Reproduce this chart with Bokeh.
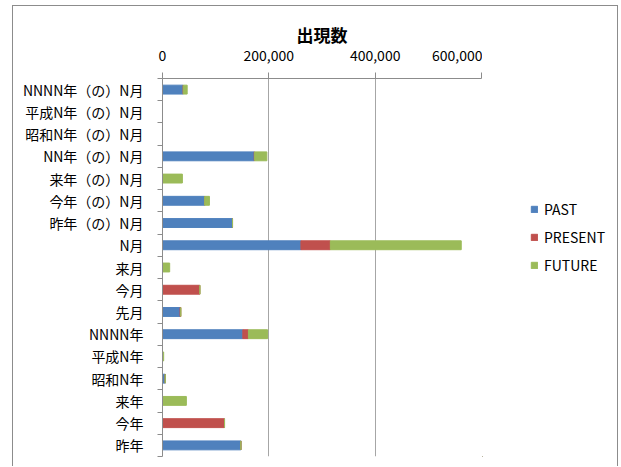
from bokeh.plotting import figure
from bokeh.layouts import row
from bokeh.models import (FixedTicker, NumeralTickFormatter, Legend, LegendItem,
                          ColumnDataSource, Range1d)
from bokeh.embed import file_html
from bokeh.resources import INLINE

categories = ["NNNN年（の）N月", "平成N年（の）N月", "昭和N年（の）N月", "NN年（の）N月",
              "来年（の）N月", "今年（の）N月", "昨年（の）N月", "N月", "来月", "今月",
              "先月", "NNNN年", "平成N年", "昭和N年", "来年", "今年", "昨年"]
past = [39000, 0, 0, 172500, 0, 79300, 131700, 260400, 0, 0, 32900, 151100, 0, 5200, 0, 0, 147400]
present = [0, 0, 0, 800, 0, 0, 0, 55300, 0, 70300, 1500, 10500, 0, 0, 0, 116700, 0]
future = [7400, 0, 0, 23000, 37400, 9000, 0, 246200, 13500, 0, 0, 36000, 2200, 0, 44900, 0, 0]
series = ["PAST", "PRESENT", "FUTURE"]
colors = ["#4F81BD", "#C0504D", "#9BBB59"]
x_ticks = [0, 200000, 400000, 600000]
title_text = "出現数"

FONT = "Noto Sans CJK JP"
GREY = "#8c8c8c"

n = len(categories)
ypos = [n - i - 0.5 for i in range(n)]
src = ColumnDataSource(dict(y=ypos, PAST=past, PRESENT=present, FUTURE=future))

H = 460
p = figure(width=469, height=H, x_range=Range1d(0, 600000), y_range=Range1d(0, n),
           x_axis_location="above", output_backend="svg", toolbar_location=None,
           title=title_text)
p.min_border_left = 149
p.min_border_top = 72
p.min_border_bottom = 10
p.min_border_right = 1
p.outline_line_color = None

rs = p.hbar_stack(series, y="y", height=0.4, color=colors, source=src)

# title
p.title.align = "center"
p.title.text_font = FONT
p.title.text_font_size = "17px"
p.title.text_font_style = "bold"
p.title.text_color = "#000000"
p.title.standoff = 0

# x axis (top)
xa = p.xaxis[0]
xa.ticker = FixedTicker(ticks=x_ticks)
xa.formatter = NumeralTickFormatter(format="0,0")
xa.major_tick_out = 6
xa.major_tick_in = 0
xa.minor_tick_line_color = None
xa.major_tick_line_color = GREY
xa.axis_line_color = GREY
xa.major_label_text_font = FONT
xa.major_label_text_font_size = "14px"
xa.major_label_text_color = "#000000"
xa.major_label_standoff = 12

# y axis
ya = p.yaxis[0]
ya.ticker = FixedTicker(ticks=ypos, minor_ticks=list(range(n + 1)))
ya.major_label_overrides = {y: c for y, c in zip(ypos, categories)}
ya.major_tick_line_color = None
ya.major_tick_out = 0
ya.major_tick_in = 0
ya.minor_tick_out = 5
ya.minor_tick_in = 0
ya.minor_tick_line_color = GREY
ya.axis_line_color = GREY
ya.major_label_text_font = FONT
ya.major_label_text_font_size = "14px"
ya.major_label_text_color = "#000000"
ya.major_label_standoff = 14

p.ygrid.visible = False
p.xgrid.ticker = FixedTicker(ticks=x_ticks)
p.xgrid.grid_line_color = "#a6a6a6"

# legend panel (a one-row copy of the stack, placed outside the visible range, for swatches)
lg = figure(width=604 - 469, height=H, x_range=Range1d(10, 11), y_range=Range1d(10, 11),
            x_axis_type=None, y_axis_type=None, output_backend="svg",
            toolbar_location=None)
lg.min_border_left = 0
lg.min_border_right = 0
lg.min_border_top = 0
lg.min_border_bottom = 0
lg.outline_line_color = None
lg_src = ColumnDataSource(dict(y=[0], PAST=[1], PRESENT=[1], FUTURE=[1]))
lrs = lg.hbar_stack(series, y="y", height=0.4, color=colors, source=lg_src)

legend = Legend(items=[LegendItem(label=s, renderers=[r]) for s, r in zip(series, lrs)],
                location=(48, 181))
legend.glyph_width = 8
legend.glyph_height = 8
legend.label_standoff = 6
legend.spacing = 8
legend.label_height = 14
legend.padding = 0
legend.margin = 0
legend.border_line_color = None
legend.background_fill_alpha = 0
legend.label_text_font = FONT
legend.label_text_font_size = "14px"
legend.label_text_color = "#000000"
lg.add_layout(legend)

layout = row(p, lg)
layout.styles = {"margin-left": "12px", "margin-top": "5px",
                 "border-left": "1px solid #8c8c8c", "border-top": "1px solid #8c8c8c",
                 "border-right": "1px solid #8c8c8c"}

open("out.html", "w").write(file_html(layout, INLINE))
